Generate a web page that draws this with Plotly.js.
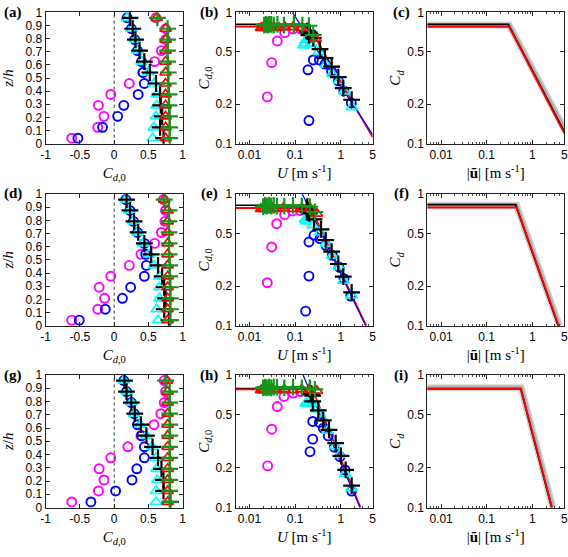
<!DOCTYPE html>
<html><head><meta charset="utf-8">
<script src="https://cdn.plot.ly/plotly-3.0.1.min.js"></script>
<style>body{margin:0;background:#fff}#plot{width:568px;height:557px}</style>
</head><body><div id="plot"></div>
<script>
// ---------- DATA ----------
// height levels (top -> bottom)
const zLevels = [0.958,0.875,0.792,0.708,0.625,0.542,0.458,0.375,0.292,0.208,0.125,0.042];

// Panel (a) profiles of C_d,0
const aMag   = [0.61,0.75,0.75,0.69,0.59,0.42,0.22,-0.05,-0.23,-0.15,-0.24,-0.62];
const aBlue  = [0.19,0.25,0.30,0.34,0.40,0.42,0.44,0.35,0.14,0.05,-0.17,-0.53];
const aCyan  = [0.19,0.25,0.30,0.34,0.40,0.50,0.58,0.62,0.62,0.61,0.58,0.56];
const aBlack = [0.23,0.27,0.31,0.37,0.44,0.52,0.61,0.67,0.68,0.70,0.67,0.72];
const aRed   = [0.62,0.75,0.75,0.75,0.75,0.75,0.75,0.75,0.75,0.75,0.75,0.75];
const aGreen = [0.63,0.78,0.78,0.78,0.78,0.79,0.79,0.80,0.80,0.81,0.81,0.81];

// Panel (d)
const dMag   = [0.72,0.75,0.74,0.69,0.59,0.39,0.22,-0.05,-0.22,-0.14,-0.24,-0.62];
const dBlue  = [0.17,0.23,0.28,0.34,0.44,0.46,0.47,0.44,0.24,0.12,-0.13,-0.51];
const dCyan  = [0.17,0.22,0.28,0.34,0.42,0.51,0.58,0.66,0.66,0.66,0.62,0.64];
const dBlack = [0.18,0.23,0.29,0.35,0.44,0.54,0.64,0.70,0.73,0.75,0.73,0.80];
const dRed   = [0.73,0.78,0.78,0.78,0.78,0.78,0.78,0.78,0.78,0.78,0.78,0.78];
const dGreen = [0.73,0.80,0.80,0.80,0.80,0.80,0.81,0.81,0.82,0.82,0.82,0.82];

// Panel (g)
const gMag   = [0.73,0.75,0.73,0.68,0.58,0.39,0.20,-0.05,-0.22,-0.15,-0.23,-0.62];
const gBlue  = [0.14,0.18,0.25,0.29,0.34,0.40,0.44,0.44,0.33,0.26,0.02,-0.34];
const gCyan  = [0.14,0.18,0.25,0.29,0.38,0.47,0.55,0.61,0.62,0.63,0.61,0.61];
const gBlack = [0.15,0.18,0.25,0.30,0.39,0.47,0.56,0.64,0.69,0.72,0.72,0.82];
const gRed   = [0.77,0.78,0.78,0.78,0.78,0.78,0.78,0.78,0.78,0.78,0.78,0.78];
const gGreen = [0.75,0.81,0.81,0.81,0.81,0.81,0.81,0.81,0.81,0.81,0.81,0.81];

// Panel (b): C_d,0 against U
const bMagU   = [0.0246,0.0307,0.0407,0.0592,0.091,0.13];
const bMagCd  = [0.227,0.414,0.605,0.70,0.747,0.75];
const bBlueU  = [0.201,0.191,0.25,0.339,0.451,0.632,0.883,1.17,1.70];
const bBlueCd = [0.15,0.365,0.434,0.434,0.403,0.354,0.30,0.252,0.204];
const bCyanU  = [1.75,1.2,0.9,0.65,0.47,0.33,0.22,0.19,0.2,0.17,0.16,0.155];
const bCyanCd = [0.19,0.25,0.30,0.34,0.40,0.50,0.58,0.62,0.62,0.61,0.58,0.56];
const bBlackU  = [1.73,1.135,0.883,0.632,0.451,0.351,0.25,0.212,0.2,0.19,0.205,0.185];
const bBlackCd = [0.216,0.265,0.321,0.386,0.448,0.524,0.635,0.681,0.67,0.712,0.70,0.72];
const bRedU   = [0.018,0.02,0.022,0.024,0.027,0.03,0.035,0.045,0.06,0.09,0.14,0.28];
const bRedCd  = [0.76,0.77,0.76,0.77,0.76,0.77,0.77,0.76,0.77,0.77,0.76,0.63];
const bGreenU  = [0.021,0.023,0.025,0.027,0.03,0.034,0.041,0.057,0.094,0.144,0.2,0.25];
const bGreenCd = [0.80,0.81,0.80,0.81,0.81,0.80,0.81,0.80,0.81,0.80,0.79,0.67];
const bLineBlueU = [0.0867,5],  bLineBlueCd = [1,0.117];
const bLineRedU  = [0.005,0.2,5], bLineRedCd = [0.78,0.78,0.112];
const bLineBlackU = [0.005,0.2], bLineBlackCd = [0.81,0.81];

// Panel (e)
const eMagU   = [0.0246,0.0307,0.0395,0.059,0.0885,0.13];
const eMagCd  = [0.212,0.396,0.595,0.697,0.743,0.75];
const eBlueU  = [0.17,0.201,0.201,0.259,0.351,0.468,0.652,0.914,1.175,1.65];
const eBlueCd = [0.129,0.238,0.432,0.486,0.458,0.408,0.342,0.279,0.227,0.168];
const eCyanU  = [1.72,1.15,0.9,0.65,0.47,0.35,0.24,0.2,0.19,0.185,0.175,0.165];
const eCyanCd = [0.17,0.22,0.28,0.34,0.42,0.51,0.58,0.66,0.66,0.66,0.62,0.64];
const eBlackU  = [0.18,0.205,0.259,0.369,0.468,0.632,0.883,1.135,1.73,0.19,0.2,0.185];
const eBlackCd = [0.765,0.713,0.642,0.539,0.447,0.365,0.294,0.236,0.179,0.73,0.75,0.80];
const eRedU   = [0.018,0.02,0.022,0.025,0.028,0.032,0.04,0.055,0.09,0.14,0.22,0.3];
const eRedCd  = [0.77,0.77,0.78,0.77,0.77,0.78,0.77,0.78,0.77,0.78,0.77,0.71];
const eGreenU  = [0.02,0.022,0.024,0.027,0.03,0.034,0.04,0.058,0.09,0.14,0.21,0.27];
const eGreenCd = [0.80,0.82,0.81,0.82,0.81,0.82,0.81,0.81,0.82,0.81,0.80,0.73];
const eLineBlueU = [0.1435,3.5], eLineBlueCd = [1,0.1];
const eLineRedU  = [0.005,0.22,3.6], eLineRedCd = [0.783,0.783,0.1];
const eLineBlackU = [0.005,0.2], eLineBlackCd = [0.82,0.82];

// Panel (h)
const hMagU   = [0.025,0.0307,0.0407,0.057,0.091,0.13];
const hMagCd  = [0.206,0.39,0.578,0.689,0.731,0.75];
const hBlueU  = [0.212,0.243,0.243,0.339,0.414,0.533,0.721,0.96,1.24,1.73];
const hBlueCd = [0.264,0.328,0.446,0.438,0.397,0.347,0.285,0.242,0.192,0.133];
const hCyanU  = [1.72,1.25,0.95,0.75,0.52,0.4,0.3,0.24,0.22,0.2,0.18,0.17];
const hCyanCd = [0.14,0.18,0.25,0.29,0.38,0.47,0.55,0.61,0.62,0.63,0.61,0.61];
const hBlackU  = [0.212,0.243,0.243,0.322,0.414,0.552,0.773,1.01,1.28,1.73,0.22,0.23];
const hBlackCd = [0.784,0.697,0.632,0.54,0.454,0.386,0.306,0.245,0.192,0.146,0.72,0.72];
const hRedU   = [0.018,0.02,0.022,0.025,0.028,0.032,0.04,0.058,0.09,0.14,0.2,0.3];
const hRedCd  = [0.77,0.77,0.78,0.77,0.77,0.78,0.77,0.78,0.77,0.78,0.77,0.76];
const hGreenU  = [0.02,0.022,0.024,0.027,0.03,0.034,0.04,0.058,0.09,0.14,0.21,0.27];
const hGreenCd = [0.80,0.81,0.80,0.81,0.80,0.81,0.81,0.80,0.81,0.80,0.80,0.78];
const hLineBlueU = [0.149,2.64], hLineBlueCd = [1,0.1];
const hLineRedU  = [0.005,0.24,2.7], hLineRedCd = [0.78,0.78,0.1];
const hLineBlackU = [0.005,0.22], hLineBlackCd = [0.79,0.79];

// Panels (c), (f), (i): C_d against |u|
const cGrayU = [0.005,0.31,5],   cGrayCd = [0.80,0.80,0.13];
const cBlackU = [0.005,0.297,5], cBlackCd = [0.81,0.81,0.123];
const cRedU = [0.005,0.31,5],    cRedCd = [0.776,0.776,0.12];
const fGrayU = [0.005,0.45,3.9],  fGrayCd = [0.82,0.82,0.1];
const fBlackU = [0.005,0.43,3.69], fBlackCd = [0.83,0.83,0.1];
const fRedU = [0.005,0.45,3.75],   fRedCd = [0.79,0.79,0.1];
const iGrayU = [0.005,0.57,2.8],  iGrayCd = [0.80,0.80,0.1];
const iBlackU = [0.005,0.555,2.65], iBlackCd = [0.79,0.79,0.1];
const iRedU = [0.005,0.56,2.68],    iRedCd = [0.785,0.785,0.1];

// tick labels
const profXTicks = [-1,-0.5,0,0.5,1], profXText = ['-1','-0.5','0','0.5','1'];
const profYTicks = [0,0.1,0.2,0.3,0.4,0.5,0.6,0.7,0.8,0.9,1];
const profYText  = ['0','0.1','0.2','0.3','0.4','0.5','0.6','0.7','0.8','0.9','1'];
const logXTicks = [0.01,0.1,1,5], logXText = ['0.01','0.1','1','5'];
const logYTicks = [0.1,0.2,0.5,1], logYText = ['0.1','0.2','0.5','1'];
const panelLetters = ['(a)','(b)','(c)','(d)','(e)','(f)','(g)','(h)','(i)'];

// ---------- STYLE ----------
const MAG='#ff00ff', BLUE='#0000ff', CYAN='#00ffff', BLK='#000000', RED='#ff0000', GRN='#12961a';
const mk = {
  mag:  {symbol:'circle-open', size:9, color:MAG, line:{color:MAG,width:1.9}},
  blue: {symbol:'circle-open', size:9, color:BLUE, line:{color:BLUE,width:1.9}},
  cyan: {symbol:'triangle-up-open', size:10, color:CYAN, line:{color:CYAN,width:1.7}},
  blk:  {symbol:'cross-thin-open', size:12, color:BLK, line:{color:BLK,width:2.2}},
  red:  {symbol:'triangle-up-open', size:10, color:RED, line:{color:RED,width:1.7}},
  grn:  {symbol:'cross-thin-open', size:12, color:GRN, line:{color:GRN,width:2.2}}
};
const traces = [];
function ax(i){ return i===1 ? '' : String(i); }
function sc(i, x, y, m){ traces.push({type:'scatter', mode:'markers', x:x, y:y, marker:m, xaxis:'x'+ax(i), yaxis:'y'+ax(i), hoverinfo:'skip'}); }
function ln(i, x, y, color, width, opacity){ traces.push({type:'scatter', mode:'lines', x:x, y:y, line:{color:color,width:width}, opacity:opacity||1, xaxis:'x'+ax(i), yaxis:'y'+ax(i), hoverinfo:'skip'}); }

function profile(i, M,B,C,K,R,G){
  sc(i,M,zLevels,mk.mag); sc(i,B,zLevels,mk.blue); sc(i,C,zLevels,mk.cyan);
  sc(i,K,zLevels,mk.blk); sc(i,R,zLevels,mk.red); sc(i,G,zLevels,mk.grn);
}
profile(1,aMag,aBlue,aCyan,aBlack,aRed,aGreen);
profile(4,dMag,dBlue,dCyan,dBlack,dRed,dGreen);
profile(7,gMag,gBlue,gCyan,gBlack,gRed,gGreen);

function scatterU(i, d){
  ln(i,d.lk[0],d.lk[1],BLK,1.5); ln(i,d.lr[0],d.lr[1],RED,1.8); ln(i,d.lb[0],d.lb[1],BLUE,1.2);
  sc(i,d.m[0],d.m[1],mk.mag); sc(i,d.b[0],d.b[1],mk.blue); sc(i,d.c[0],d.c[1],mk.cyan);
  sc(i,d.k[0],d.k[1],mk.blk); sc(i,d.r[0],d.r[1],mk.red); sc(i,d.g[0],d.g[1],mk.grn);
}
scatterU(2,{lk:[bLineBlackU,bLineBlackCd],lr:[bLineRedU,bLineRedCd],lb:[bLineBlueU,bLineBlueCd],
  m:[bMagU,bMagCd],b:[bBlueU,bBlueCd],c:[bCyanU,bCyanCd],k:[bBlackU,bBlackCd],r:[bRedU,bRedCd],g:[bGreenU,bGreenCd]});
scatterU(5,{lk:[eLineBlackU,eLineBlackCd],lr:[eLineRedU,eLineRedCd],lb:[eLineBlueU,eLineBlueCd],
  m:[eMagU,eMagCd],b:[eBlueU,eBlueCd],c:[eCyanU,eCyanCd],k:[eBlackU,eBlackCd],r:[eRedU,eRedCd],g:[eGreenU,eGreenCd]});
scatterU(8,{lk:[hLineBlackU,hLineBlackCd],lr:[hLineRedU,hLineRedCd],lb:[hLineBlueU,hLineBlueCd],
  m:[hMagU,hMagCd],b:[hBlueU,hBlueCd],c:[hCyanU,hCyanCd],k:[hBlackU,hBlackCd],r:[hRedU,hRedCd],g:[hGreenU,hGreenCd]});

function model(i, gu,gc, ku,kc, ru,rc){
  ln(i,gu,gc,'#9a9a9a',7,0.45); ln(i,gu,gc,'#8a8a8a',4,0.5);
  ln(i,ku,kc,BLK,1.8); ln(i,ru,rc,RED,1.8);
}
model(3,cGrayU,cGrayCd,cBlackU,cBlackCd,cRedU,cRedCd);
model(6,fGrayU,fGrayCd,fBlackU,fBlackCd,fRedU,fRedCd);
model(9,iGrayU,iGrayCd,iBlackU,iBlackCd,iRedU,iRedCd);

// ---------- LAYOUT ----------
const W=568, H=557;
const colX = [[45.7,182.7],[235.7,372.7],[427.3,564.3]];
const rowY = [[12.3,143.7],[194,325.7],[375,507.5]];
const serif = 'Liberation Serif, Times New Roman, serif';
const layout = {
  width:W, height:H, margin:{l:0,r:0,t:0,b:0}, showlegend:false,
  paper_bgcolor:'#fff', plot_bgcolor:'#fff',
  font:{family:'Liberation Sans, Arial, sans-serif', size:12, color:'#000'},
  annotations:[], shapes:[]
};
const base = {showline:true, linecolor:'#222', linewidth:1, mirror:'allticks', ticks:'inside', ticklen:4,
  tickcolor:'#222', showgrid:false, zeroline:false, tickfont:{size:12, color:'#000'}};
const xTitles = ['<i>C</i><sub><i>d</i>,0</sub>', '<i>U</i> [m s<sup>-1</sup>]', '|<b>ũ</b>| [m s<sup>-1</sup>]'];
const yTitles = ['<i>z</i>/<i>h</i>', '<i>C</i><sub><i>d</i>,0</sub>', '<i>C</i><sub><i>d</i></sub>'];
for(let i=1;i<=9;i++){
  const r = Math.floor((i-1)/3), c=(i-1)%3, s=ax(i);
  const xa = Object.assign({}, base, {domain:[colX[c][0]/W, colX[c][1]/W], anchor:'y'+s,
    title:{text:xTitles[c], font:{family:serif,size:15}, standoff:6}});
  const ya = Object.assign({}, base, {domain:[1-rowY[r][1]/H, 1-rowY[r][0]/H], anchor:'x'+s,
    title:{text:yTitles[c], font:{family:serif,size:15}, standoff: c===0?10:2}});
  if(c===0){
    Object.assign(xa,{range:[-1,1], tickvals:profXTicks, ticktext:profXText});
    Object.assign(ya,{range:[0,1], tickvals:profYTicks, ticktext:profYText});
    layout.shapes.push({type:'line', xref:'x'+s, yref:'y'+s+' domain', x0:0, x1:0, y0:0, y1:1,
      line:{color:'#333', width:1, dash:'dot'}});
  } else {
    Object.assign(xa,{type:'log', range:[Math.log10(0.005), Math.log10(5)], tickvals:logXTicks, ticktext:logXText,
      minor:{ticks:'inside', ticklen:2, tickcolor:'#444', dtick:'D1'}});
    Object.assign(ya,{type:'log', range:[-1,0], tickvals:logYTicks, ticktext:logYText});
  }
  layout['xaxis'+s]=xa; layout['yaxis'+s]=ya;
  const lx = [12.5, 209, 401][c], ly = [12.5, 193, 375][r];
  layout.annotations.push({xref:'paper', yref:'paper', x:lx/W, y:1-ly/H, xanchor:'center', yanchor:'middle',
    showarrow:false, text:'<b>'+panelLetters[i-1]+'</b>', font:{family:serif, size:15, color:'#000'}});
}
Plotly.newPlot('plot', traces, layout, {staticPlot:true, displayModeBar:false});
</script>
</body></html>
